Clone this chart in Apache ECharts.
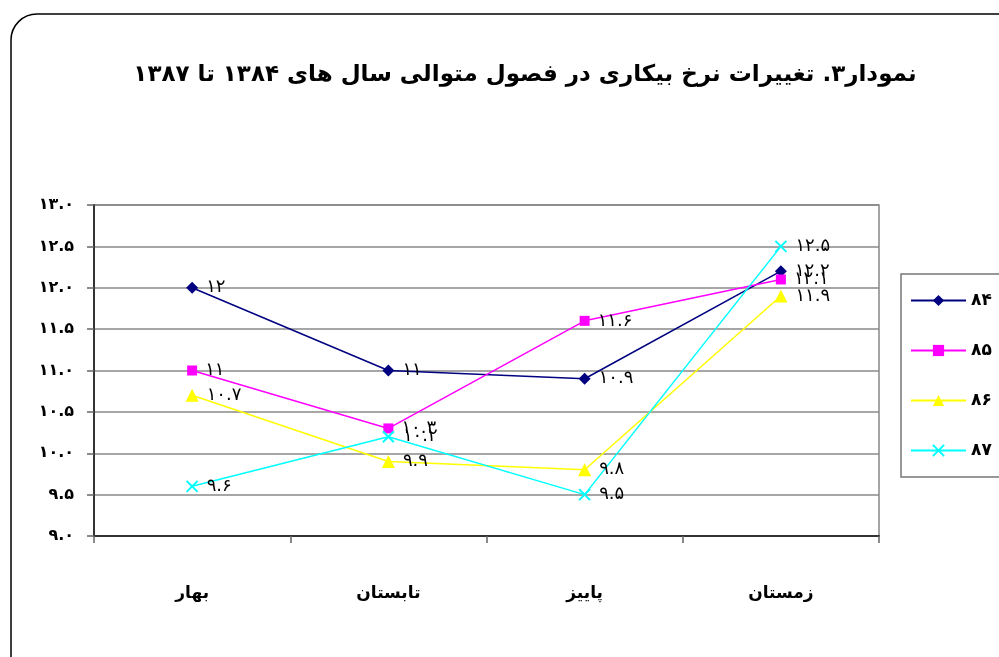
<!DOCTYPE html>
<html>
<head>
<meta charset="utf-8">
<script src="https://cdn.jsdelivr.net/npm/echarts@6/dist/echarts.min.js"></script>
<style>
  html, body { margin: 0; padding: 0; background: #fff; }
  #grafico { width: 999px; height: 657px; }
</style>
</head>
<body>
<div id="grafico" dir="rtl"></div>
<script>
// Datos
const titulo = 'نمودار۳. تغییرات نرخ بیکاری در فصول متوالی سال های ۱۳۸۴ تا ۱۳۸۷';
const estaciones = ['بهار', 'تابستان', 'پاییز', 'زمستان'];
const anios = ['84', '85', '86', '87'];
const valores84 = [12, 11, 10.9, 12.2];
const valores85 = [11, 10.3, 11.6, 12.1];
const valores86 = [10.7, 9.9, 9.8, 11.9];
const valores87 = [9.6, 10.2, 9.5, 12.5];

const FUENTE = '"DejaVu Sans", sans-serif';

// Convierte dígitos latinos a persas
function aPersa(texto) {
    return String(texto).replace(/\d/g, d => '۰۱۲۳۴۵۶۷۸۹'[d]);
}

const estilos = [
    {color: '#000080', symbol: 'diamond', size: 12},
    {color: '#ff00ff', symbol: 'rect', size: 10},
    {color: '#ffff00', symbol: 'triangle', size: 13},
    {color: '#00ffff', symbol: 'path://M0,0L10,10M10,0L0,10', size: 11}
];
const valores = [valores84, valores85, valores86, valores87];

const series = anios.map((anio, i) => ({
    name: aPersa(anio),
    type: 'line',
    data: valores[i],
    symbol: estilos[i].symbol,
    symbolSize: estilos[i].size,
    lineStyle: {color: estilos[i].color, width: 1.5},
    itemStyle: {
        color: estilos[i].color,
        borderColor: estilos[i].color,
        borderWidth: i === 3 ? 2 : 0
    },
    label: {
        show: true,
        position: 'right',
        distance: 8,
        color: '#000',
        fontFamily: FUENTE,
        fontSize: 18,
        formatter: p => aPersa(p.value)
    },
    emphasis: {disabled: true}
}));

const myChart = echarts.init(document.getElementById('grafico'));

const option = {
    backgroundColor: '#fff',
    animation: false,
    title: {
        text: titulo,
        left: 520,
        top: 59,
        textAlign: 'center',
        textStyle: {
            fontFamily: FUENTE,
            fontSize: 23,
            fontWeight: 'bold',
            color: '#000'
        }
    },
    graphic: [{
        type: 'rect',
        shape: {x: 11, y: 14, width: 1100, height: 700, r: 26},
        style: {fill: 'none', stroke: '#000', lineWidth: 1.5},
        silent: true
    }],
    legend: {
        orient: 'vertical',
        left: 901,
        top: 274,
        padding: [18, 30, 18, 9],
        itemGap: 33,
        itemWidth: 55,
        itemHeight: 14,
        borderColor: '#777',
        borderWidth: 1.5,
        textStyle: {fontFamily: FUENTE, fontSize: 17, fontWeight: 'bold', color: '#000'},
        data: anios.map(aPersa)
    },
    grid: {
        left: 94,
        right: 120,
        top: 205,
        bottom: 121,
        show: true,
        borderColor: '#888',
        borderWidth: 1.5
    },
    xAxis: {
        type: 'category',
        data: estaciones,
        boundaryGap: true,
        axisLine: {lineStyle: {color: '#333', width: 2}},
        axisTick: {show: true, length: 7, lineStyle: {color: '#666', width: 1.5}},
        axisLabel: {
            margin: 49,
            fontFamily: FUENTE,
            fontSize: 17,
            fontWeight: 'bold',
            color: '#000'
        }
    },
    yAxis: {
        type: 'value',
        min: 9,
        max: 13,
        interval: 0.5,
        axisLine: {show: true, lineStyle: {color: '#333', width: 2}},
        axisTick: {show: true, length: 7, lineStyle: {color: '#666', width: 1.5}},
        splitLine: {lineStyle: {color: '#888', width: 1.5}},
        axisLabel: {
            margin: 20,
            fontFamily: FUENTE,
            fontSize: 16,
            fontWeight: 'bold',
            color: '#000',
            formatter: v => aPersa(v.toFixed(1))
        }
    },
    series: series
};

myChart.setOption(option);
window.addEventListener('resize', () => myChart.resize());
</script>
</body>
</html>
